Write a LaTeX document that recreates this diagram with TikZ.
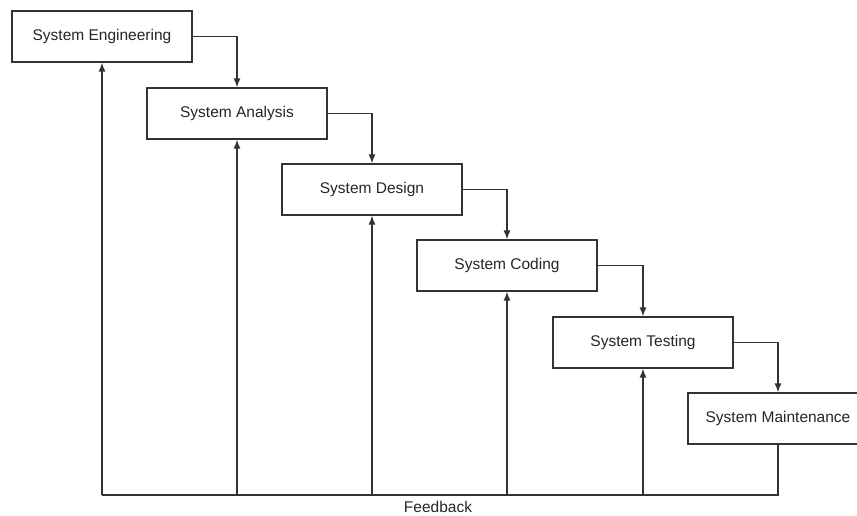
\documentclass[tikz,border=0pt]{standalone}
\usepackage{fontspec}
\setmainfont{Liberation Sans}
\usetikzlibrary{arrows.meta}
\begin{document}
\begin{tikzpicture}[x=1pt,y=-1pt,
  stage/.style={draw=black!80, line width=1.2pt, fill=white, minimum width=180pt, minimum height=51pt, inner sep=0pt, font=\fontsize{15.5}{18}\selectfont, text=black!85},
  conn/.style={draw=black!80, line width=1.3pt},
  arr/.style={conn, -{Latex[length=9pt,width=7pt]}}]
\useasboundingbox (0,0) rectangle (857,515);
\clip (0,0) rectangle (857,515);
\node[stage] (e) at (102,36.5) {System Engineering};
\node[stage] (a) at (237,113.5) {System Analysis};
\node[stage] (d) at (372,189.5) {System Design};
\node[stage] (c) at (507,265.5) {System Coding};
\node[stage] (t) at (643,342.5) {System Testing};
\node[stage] (m) at (778,418.5) {System Maintenance};
\draw[arr] (e.east) -| (a.north);
\draw[arr] (a.east) -| (d.north);
\draw[arr] (d.east) -| (c.north);
\draw[arr] (c.east) -| (t.north);
\draw[arr] (t.east) -| (m.north);
\coordinate (f1) at (102,495);
\coordinate (f2) at (237,495);
\coordinate (f3) at (372,495);
\coordinate (f4) at (507,495);
\coordinate (f5) at (643,495);
\draw[conn] (m.south) |- (f1);
\draw[arr] (f1) -- (e.south);
\draw[arr] (f2) -- (a.south);
\draw[arr] (f3) -- (d.south);
\draw[arr] (f4) -- (c.south);
\draw[arr] (f5) -- (t.south);
\node[font=\fontsize{15.5}{18}\selectfont, text=black!85, inner sep=0pt, anchor=base] (fb) at (438,512) {Feedback};
\end{tikzpicture}
\end{document}
